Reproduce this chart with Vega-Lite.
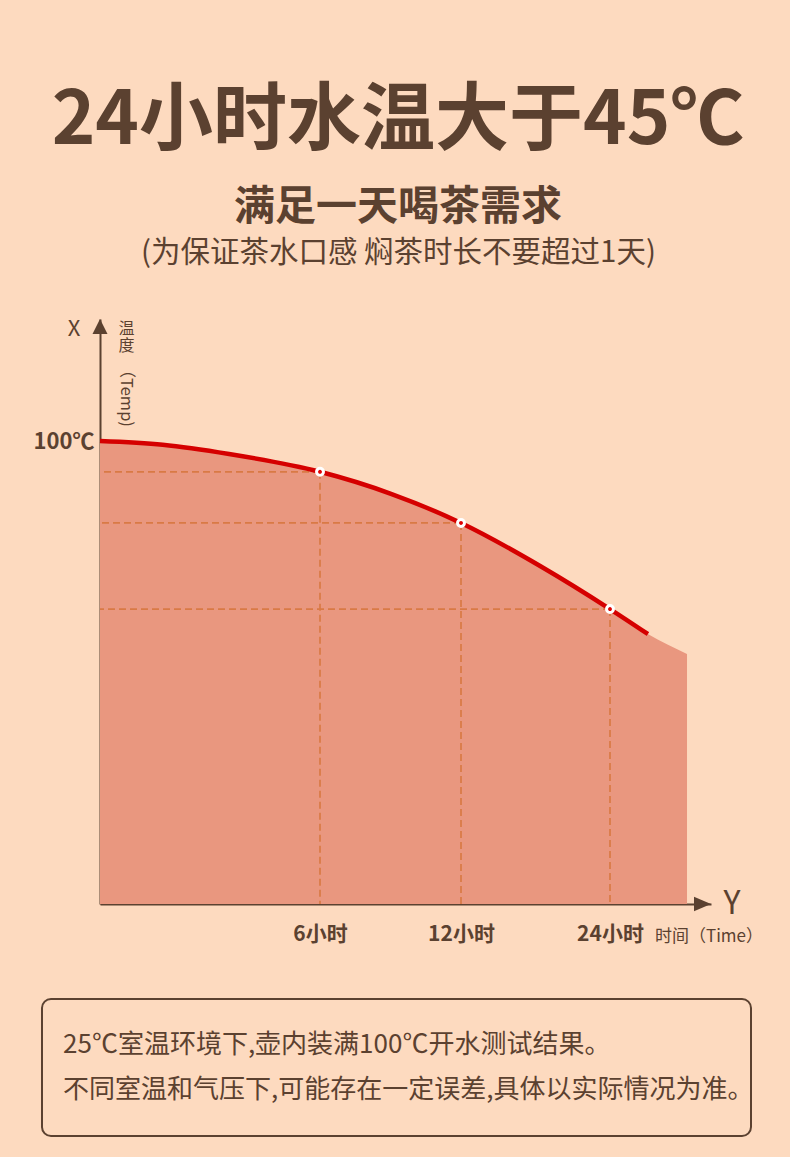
{
  "$schema": "https://vega.github.io/schema/vega-lite/v6.json",
  "background": "#FDDABF",
  "padding": {"left": 33, "top": 85, "right": 60, "bottom": 60},
  "datasets": {
    "curve": [
      {"t": 0, "temp": 100},
      {"t": 1.71, "temp": 99.2},
      {"t": 3.52, "temp": 97.2},
      {"t": 6, "temp": 93.35},
      {"t": 9.02, "temp": 88.6},
      {"t": 12, "temp": 82.3},
      {"t": 18.44, "temp": 72.9},
      {"t": 24, "temp": 63.7},
      {"t": 27, "temp": 58.3},
      {"t": 30.1, "temp": 54.0}
    ],
    "marks": [
      {"t": 6, "temp": 93.35},
      {"t": 12, "temp": 82.3},
      {"t": 24, "temp": 63.7}
    ]
  },
  "title": {
    "text": "24小时水温大于45℃",
    "subtitle": "满足一天喝茶需求",
    "font": "Noto Sans CJK SC",
    "subtitleFont": "Noto Sans CJK SC",
    "fontSize": 74,
    "fontWeight": "bold",
    "color": "#5B4130",
    "subtitleFontSize": 41,
    "subtitleFontWeight": "bold",
    "subtitleColor": "#5B4130",
    "subtitlePadding": 28,
    "offset": 9,
    "anchor": "middle"
  },
  "spacing": 53,
  "vconcat": [
    {
      "width": 611,
      "height": 585,
      "title": {
        "text": "(为保证茶水口感 焖茶时长不要超过1天)",
        "fontSize": 29.5,
        "fontWeight": "normal",
        "color": "#5B4130",
        "offset": 49,
        "dx": -7,
        "anchor": "middle"
      },
      "layer": [
        {
          "data": {"name": "curve"},
          "mark": {"type": "area", "color": "#E9977F", "interpolate": "monotone", "opacity": 1},
          "encoding": {
            "x": {
              "field": "t",
              "type": "quantitative",
              "scale": {"domain": [0, 6, 12, 24, 32], "range": [0, 220, 361, 510, 611], "nice": false, "zero": false},
              "axis": {
                "values": [6, 12, 24],
                "labelExpr": "datum.value + '小时'",
                "ticks": false,
                "tickSize": 0,
                "grid": false,
                "domainColor": "#5B4130",
                "domainWidth": 2,
                "labelFontSize": 21,
                "labelFontWeight": "bold",
                "labelColor": "#5B4130",
                "labelPadding": 19.5,
                "labelFlush": false,
                "title": null
              }
            },
            "y": {
              "field": "temp",
              "type": "quantitative",
              "scale": {"domain": [0, 126.35], "nice": false, "zero": true},
              "axis": {
                "values": [100],
                "labelExpr": "datum.value + '℃'",
                "ticks": false,
                "tickSize": 0,
                "grid": false,
                "domainColor": "#5B4130",
                "domainWidth": 2,
                "labelFontSize": 22,
                "labelFontWeight": "bold",
                "labelColor": "#5B4130",
                "labelPadding": 6,
                "labelFlush": false,
                "title": null
              }
            }
          }
        },
        {
          "data": {"name": "marks"},
          "mark": {"type": "rule", "color": "#D97A45", "strokeWidth": 1.7, "strokeDash": [7, 4]},
          "encoding": {
            "x": {"field": "t", "type": "quantitative"},
            "x2": {"datum": 0},
            "y": {"field": "temp", "type": "quantitative"}
          }
        },
        {
          "data": {"name": "marks"},
          "mark": {"type": "rule", "color": "#D97A45", "strokeWidth": 1.7, "strokeDash": [7, 4]},
          "encoding": {
            "x": {"field": "t", "type": "quantitative"},
            "y": {"field": "temp", "type": "quantitative"},
            "y2": {"datum": 0}
          }
        },
        {
          "data": {"name": "curve"},
          "transform": [{"filter": "datum.t <= 27.01"}],
          "mark": {"type": "line", "color": "#D50000", "strokeWidth": 4.5, "interpolate": "monotone", "strokeCap": "butt"},
          "encoding": {
            "x": {"field": "t", "type": "quantitative"},
            "y": {"field": "temp", "type": "quantitative"}
          }
        },
        {
          "data": {"name": "marks"},
          "mark": {"type": "point", "shape": "circle", "filled": true, "fill": "#E00000", "stroke": "#FFFFFF", "strokeWidth": 3, "size": 48, "opacity": 1},
          "encoding": {
            "x": {"field": "t", "type": "quantitative"},
            "y": {"field": "temp", "type": "quantitative"}
          }
        },
        {
          "data": {"values": [{}]},
          "mark": {"type": "point", "shape": "M0,0L-1,2L1,2Z", "filled": true, "color": "#5B4130", "size": 225, "opacity": 1},
          "encoding": {
            "x": {"datum": 0, "type": "quantitative"},
            "y": {"datum": 126.35, "type": "quantitative"}
          }
        },
        {
          "data": {"values": [{}]},
          "mark": {"type": "point", "shape": "M0,0L-2,-0.85L-2,0.85Z", "filled": true, "color": "#5B4130", "size": 289, "opacity": 1},
          "encoding": {
            "x": {"datum": 32, "type": "quantitative"},
            "y": {"datum": 0, "type": "quantitative"}
          }
        },
        {
          "data": {"values": [{}]},
          "mark": {"type": "text", "text": "X", "fontSize": 22, "color": "#5B4130", "align": "center", "baseline": "middle"},
          "encoding": {
            "x": {"datum": -0.709, "type": "quantitative"},
            "y": {"datum": 124.2, "type": "quantitative"}
          }
        },
        {
          "data": {"values": [{}]},
          "mark": {"type": "text", "text": "Y", "fontSize": 32, "color": "#5B4130", "align": "center", "baseline": "middle"},
          "encoding": {
            "x": {"datum": 33.66, "type": "quantitative"},
            "y": {"datum": 0, "type": "quantitative"}
          }
        },
        {
          "data": {"values": [{}]},
          "mark": {"type": "text", "text": ["温", "度"], "fontSize": 16, "lineHeight": 16.7, "color": "#5B4130", "align": "center", "baseline": "top"},
          "encoding": {
            "x": {"datum": 0.72, "type": "quantitative"},
            "y": {"datum": 125.9, "type": "quantitative"}
          }
        },
        {
          "data": {"values": [{}]},
          "mark": {"type": "text", "text": "（Temp)", "fontSize": 16.5, "angle": 90, "color": "#5B4130", "align": "center", "baseline": "middle"},
          "encoding": {
            "x": {"datum": 0.72, "type": "quantitative"},
            "y": {"datum": 110.1, "type": "quantitative"}
          }
        },
        {
          "data": {"values": [{}]},
          "mark": {"type": "text", "text": "时间（Time）", "fontSize": 17, "color": "#5B4130", "align": "left", "baseline": "middle"},
          "encoding": {
            "x": {"datum": 27.56, "type": "quantitative"},
            "y": {"datum": -7.02, "type": "quantitative"}
          }
        }
      ]
    },
    {
      "width": 651,
      "height": 137,
      "layer": [
        {
          "data": {"values": [{}]},
          "mark": {"type": "rect", "filled": false, "color": "#5B4130", "strokeWidth": 2, "cornerRadius": 9},
          "encoding": {
            "x": {"datum": -0.0891, "type": "quantitative", "scale": {"domain": [0, 1], "nice": false, "zero": false}, "axis": null},
            "x2": {"datum": 1}
          }
        },
        {
          "data": {
            "values": [
              {"line": 1, "text": "25℃室温环境下,壶内装满100℃开水测试结果。"},
              {"line": 2, "text": "不同室温和气压下,可能存在一定误差,具体以实际情况为准。"}
            ]
          },
          "mark": {"type": "text", "align": "left", "baseline": "middle", "fontSize": 26, "color": "#5B4130"},
          "encoding": {
            "x": {"datum": -0.0568, "type": "quantitative", "scale": {"domain": [0, 1], "nice": false, "zero": false}, "axis": null},
            "y": {"field": "line", "type": "ordinal", "scale": {"type": "point", "padding": 1.35}, "axis": null},
            "text": {"field": "text"}
          }
        }
      ]
    }
  ],
  "config": {
    "font": "Noto Sans CJK SC",
    "view": {"stroke": null},
    "axis": {"labelFont": "Noto Sans CJK SC"}
  }
}
